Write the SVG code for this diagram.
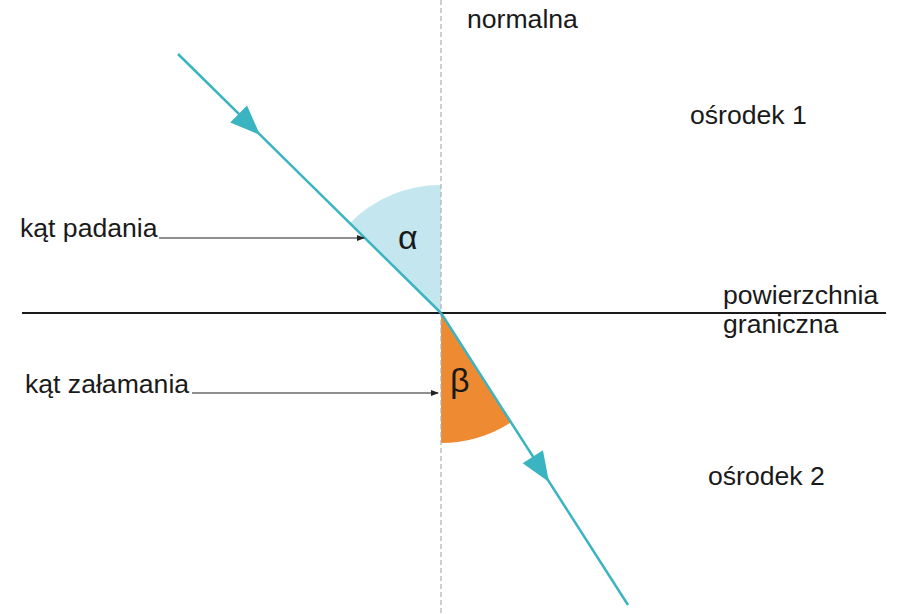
<svg xmlns="http://www.w3.org/2000/svg" width="898" height="614" viewBox="0 0 898 614">
<style>
.t{font-family:"Liberation Sans",Arial,sans-serif;font-size:26.6px;fill:#1a1a1a}
.g{font-family:"Liberation Sans",Arial,sans-serif;font-size:34px;fill:#1a1a1a}
.ray{stroke:#3bb4c1;stroke-width:2.5;fill:none}
.head{fill:#3bb4c1}
.ptr{stroke:#222;stroke-width:1.2;fill:none;marker-end:url(#ah)}
</style>
<defs>
<marker id="ah" markerWidth="8" markerHeight="6" refX="7" refY="3" orient="auto" markerUnits="userSpaceOnUse">
<path d="M0,0 L8,3 L0,6 z" fill="#222"/>
</marker>
</defs>
<rect width="898" height="614" fill="#fff"/>
<g id="wedges">
<path d="M441,313 L441,185 A128,128 0 0 0 350.2,222.8 Z" fill="#c3e6ef"/>
<path d="M441,313 L441,443 A130,130 0 0 0 511.1,422.3 Z" fill="#ee8a32"/>
</g>
<g id="normal">
<line x1="441" y1="0" x2="441" y2="614" stroke="#b0b0b0" stroke-width="1.2" stroke-dasharray="5 3"/>
</g>
<g id="surface">
<line x1="22" y1="313" x2="886" y2="313" stroke="#1a1a1a" stroke-width="2"/>
</g>
<g id="connectors">
<line class="ray" x1="178" y1="54" x2="441" y2="313"/>
<polygon class="head" points="260,135 230.2,122.5 247,105.4"/>
<line class="ray" x1="441" y1="313" x2="628" y2="605"/>
<polygon class="head" points="549,482 522.7,463.3 542.9,450.3"/>
<line class="ptr" x1="159" y1="238" x2="364" y2="238"/>
<line class="ptr" x1="192" y1="393" x2="438" y2="393"/>
</g>
<g id="alpha"><text class="g" x="398" y="249">α</text></g>
<g id="beta"><text class="g" x="450" y="392">β</text></g>
<g id="label-normalna"><text class="t" x="467" y="28">normalna</text></g>
<g id="label-osrodek1"><text class="t" x="690" y="124">ośrodek 1</text></g>
<g id="label-osrodek2"><text class="t" x="708" y="485">ośrodek 2</text></g>
<g id="label-padania"><text class="t" x="20" y="237">kąt padania</text></g>
<g id="label-zalamania"><text class="t" x="25" y="393">kąt załamania</text></g>
<g id="label-powierzchnia"><text class="t" x="723" y="304">powierzchnia</text><text class="t" x="723" y="333">graniczna</text></g>
</svg>
